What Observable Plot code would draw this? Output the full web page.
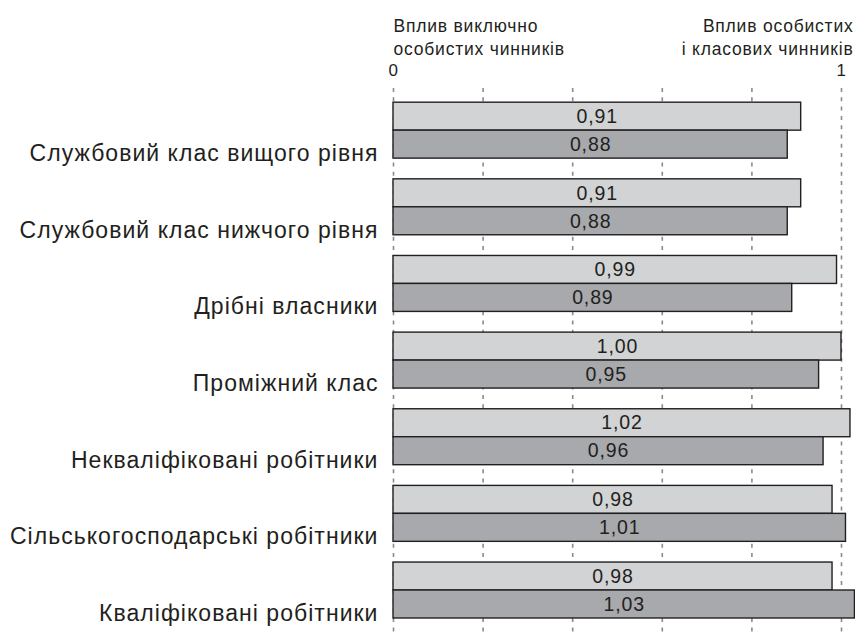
<!DOCTYPE html>
<html><head><meta charset="utf-8">
<script src="https://cdn.jsdelivr.net/npm/d3@7"></script>
<script src="https://cdn.jsdelivr.net/npm/@observablehq/plot@0.6"></script>
<style>body{margin:0;background:#fff} svg{display:block} svg text{letter-spacing:0.045em}</style>
</head><body><div id="chart"></div>
<script>
const categories = [
  "Службовий клас вищого рівня",
  "Службовий клас нижчого рівня",
  "Дрібні власники",
  "Проміжний клас",
  "Некваліфіковані робітники",
  "Сільськогосподарські робітники",
  "Кваліфіковані робітники"
];
const lightValues = [0.91, 0.91, 0.99, 1.00, 1.02, 0.98, 0.98];
const darkValues  = [0.88, 0.88, 0.89, 0.95, 0.96, 1.01, 1.03];
const gridTicks = [0, 0.2, 0.4, 0.6, 0.8, 1];
const endTicks = [0, 1];
const endTickLabels = ["0", "1"];
const headerLeft = "Вплив виключно\nособистих чинників";
const headerRight = "Вплив особистих\nі класових чинників";

const H = 0.365; // bar thickness in group units
const rows = categories.flatMap((c, i) => [
  {cat: c, i, s: "light", v: lightValues[i]},
  {cat: c, i, s: "dark", v: darkValues[i]}
]);
const fmt = v => d3.format(".2f")(v).replace(".", ",");
const ink = "#231f20";
const font = "'Liberation Sans', Arial, sans-serif";

const chart = Plot.plot({
  width: 855,
  height: 636,
  marginLeft: 393,
  marginRight: 14,
  marginTop: 88,
  marginBottom: 0,
  style: {fontFamily: font, color: ink, background: "#fff"},
  x: {domain: [0, 1], axis: null},
  y: {type: "linear", domain: [-0.55, 6.6], reverse: true, axis: null},
  color: {domain: ["light", "dark"], range: ["#d1d3d4", "#a7a9ac"]},
  marks: [
    Plot.ruleX(gridTicks, {x: d => d, stroke: "#8a8a8a", strokeWidth: 1.6, strokeDasharray: "4,5.3"}),
    Plot.rectX(rows, {
      x1: 0, x2: "v",
      y1: d => d.s === "light" ? d.i - H : d.i,
      y2: d => d.s === "light" ? d.i : d.i + H,
      fill: "s", stroke: ink, strokeWidth: 1.4
    }),
    Plot.text(rows, {
      x: d => d.v / 2,
      y: d => d.s === "light" ? d.i - H / 2 : d.i + H / 2,
      text: d => fmt(d.v), fontSize: 19.5, fill: ink
    }),
    Plot.text(categories, {
      x: 0, y: (d, i) => i, text: d => d, textAnchor: "end",
      dx: -15, dy: 23, fontSize: 23, fill: ink
    }),
    Plot.text(endTicks, {
      x: d => d, frameAnchor: "top", text: (d, i) => endTickLabels[i],
      textAnchor: (d, i) => i === 0 ? "start" : "middle",
      lineAnchor: "bottom", dy: -13, fontSize: 17, fill: ink
    }),
    Plot.text([headerLeft], {
      x: 0, frameAnchor: "top", text: d => d, textAnchor: "start",
      lineAnchor: "top", dy: -73, lineHeight: 1.33, fontSize: 17.5, fill: ink
    }),
    Plot.text([headerRight], {
      x: 1, frameAnchor: "top", text: d => d, textAnchor: "end",
      lineAnchor: "top", dy: -73, dx: 12, lineHeight: 1.33, fontSize: 17.5, fill: ink
    })
  ]
});
document.getElementById("chart").append(chart);
</script>
</body></html>
